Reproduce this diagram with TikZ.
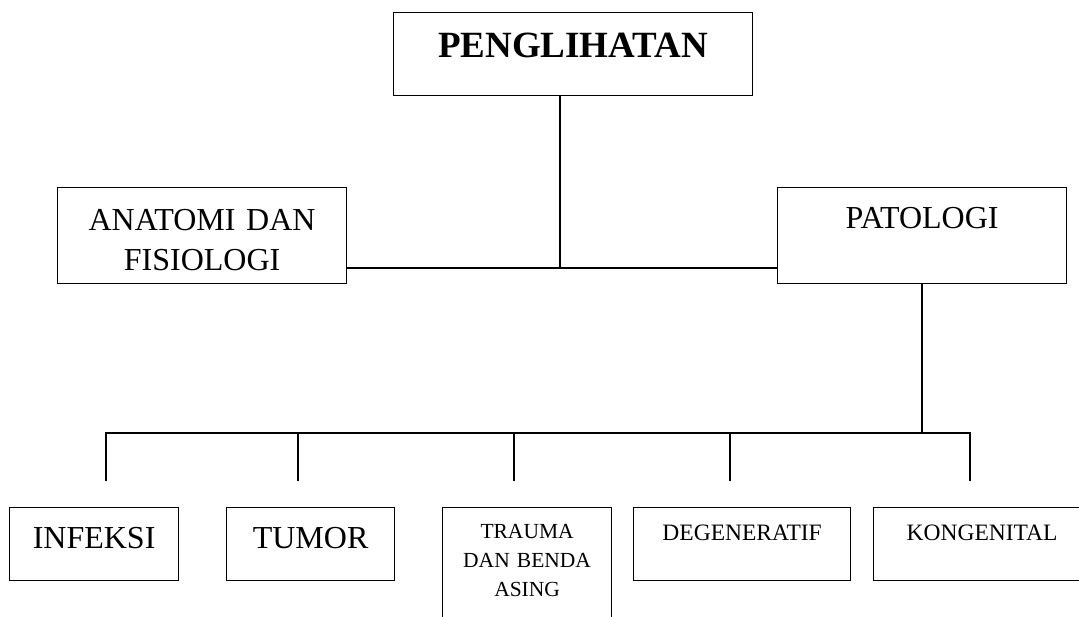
\documentclass[tikz,border=0pt]{standalone}
\usepackage{fontspec}
\setmainfont{Liberation Serif}
\usetikzlibrary{positioning}

\begin{document}
\begin{tikzpicture}[x=1pt, y=-1pt, line width=1.2pt,
        kotak/.style={draw, anchor=north west, inner sep=0pt, align=center}]
        \path [use as bounding box, clip] (0,0) rectangle (1079,616);

        \node [kotak, text width=359pt, text height=45pt, text depth=38pt, font=\fontsize{37}{44}\selectfont\bfseries] (utama) at (393,12) {PENGLIHATAN};

        \node [kotak, text width=289pt, text height=43pt, text depth=53pt, font=\fontsize{32}{40}\selectfont] (anat) at (57,187) {ANATOMI DAN\\FISIOLOGI};
        \node [kotak, text width=289pt, text height=41pt, text depth=55pt, font=\fontsize{32}{40}\selectfont] (pato) at (777,187) {PATOLOGI};

        \node [kotak, text width=169pt, text height=41pt, text depth=32pt, font=\fontsize{32}{40}\selectfont] (infeksi) at (9,507) {INFEKSI};
        \node [kotak, text width=168pt, text height=41pt, text depth=32pt, font=\fontsize{32}{40}\selectfont] (tumor) at (226,507) {TUMOR};
        \node [kotak, text width=169pt, text height=31pt, text depth=87pt, font=\fontsize{21.5}{29}\selectfont] (trauma) at (442,507) {TRAUMA\\DAN BENDA\\ASING};
        \node [kotak, text width=217pt, text height=33pt, text depth=40pt, font=\fontsize{23.5}{29}\selectfont] (degen) at (633,507) {DEGENERATIF};
        \node [kotak, text width=217pt, text height=33pt, text depth=40pt, font=\fontsize{23.5}{29}\selectfont] (kong) at (873,507) {KONGENITAL};

        % upper branch
        \coordinate (simpul) at (560,268);
        \draw (utama.south -| simpul) -- (simpul);
        \draw (anat.east |- simpul) -- (pato.west |- simpul);

        % lower branch
        \coordinate (cabang) at (922,433);
        \draw (pato.south -| cabang) -- (cabang);
        \foreach \n/\x in {infeksi/106, tumor/298, trauma/514, degen/730, kong/970}
            \coordinate (\n-atas) at (\x,481);
        \draw (infeksi-atas) -- (infeksi-atas |- cabang) -- (kong-atas |- cabang) -- (kong-atas);
        \foreach \n in {tumor, trauma, degen}
            \draw (\n-atas) -- (\n-atas |- cabang);

    \end{tikzpicture}
\end{document}
